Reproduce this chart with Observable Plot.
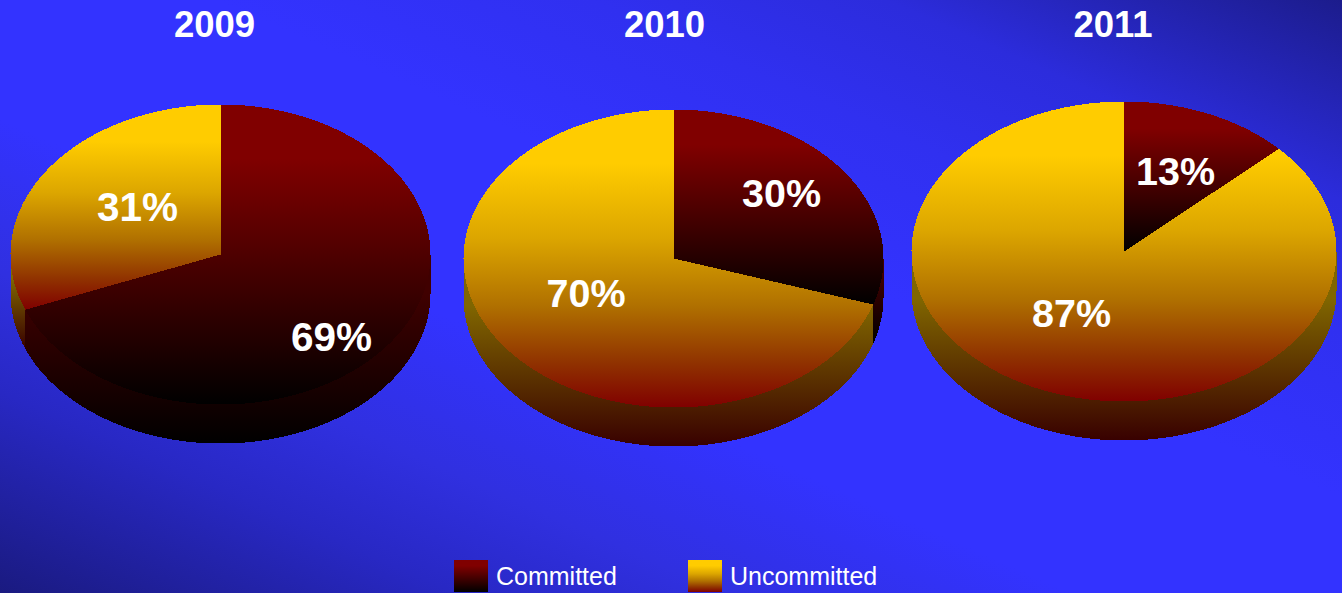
<!DOCTYPE html>
<html>
<head>
<meta charset="utf-8">
<script src="https://cdn.jsdelivr.net/npm/d3@7"></script>
<script src="https://cdn.jsdelivr.net/npm/@observablehq/plot@0.6"></script>
<style>
  html, body { margin: 0; padding: 0; overflow: hidden; background: #3333ff; }
  svg { display: block; }
</style>
</head>
<body>
<div id="chart"></div>
<script>
const years = ["2009", "2010", "2011"];
const committed = [69, 30, 13];
const uncommitted = [31, 70, 87];
const seriesNames = ["Committed", "Uncommitted"];

// Layout of the three pies, in pixels of the picture
const pieCx = [220, 673, 1123.5];
const pieCy = [254, 258, 251];
const pieRx = [210, 210, 212.5];
const pieRy = [150, 149, 150];
const pieDepth = 39;
const titleX = [214, 664, 1112.5];
const labelCommitted = [[331, 338], [781, 194], [1175, 172]];
const labelUncommitted = [[137, 208], [585.5, 294], [1071, 314]];
const labelSize = [40.5, 39.5, 39.5];

const W = 1342, H = 593;
const rad = Math.PI / 180;

const topFill = ["url(#topRed)", "url(#topGold)"];
const sideFill = ["url(#sideRed)", "url(#sideGold)"];

function arcPoints(i, from, to, dy = 0) {
  const n = Math.max(2, Math.ceil(Math.abs(to - from)));
  return d3.range(n + 1).map(k => {
    const a = (from + (to - from) * k / n) * rad;
    return {x: pieCx[i] + pieRx[i] * Math.sin(a), y: pieCy[i] - pieRy[i] * Math.cos(a) + dy};
  });
}

const topPts = [], sidePts = [];
years.forEach((year, i) => {
  const split = committed[i] / (committed[i] + uncommitted[i]) * 360;
  const slices = [[0, split], [split, 360]];
  slices.forEach(([a, b], s) => {
    const key = year + seriesNames[s];
    const centre = {x: pieCx[i], y: pieCy[i]};
    [centre, ...arcPoints(i, a, b)].forEach(p => topPts.push({...p, key, fill: topFill[s]}));
    const from = Math.max(a, 90), to = Math.min(b, 270);
    if (to > from) {
      // the upper edge is a chord hidden under the top face, so no seam shows along the rim
      const rim = arcPoints(i, from, to);
      [rim[0], rim[rim.length - 1], ...arcPoints(i, to, from, pieDepth)]
        .forEach(p => sidePts.push({...p, key, fill: sideFill[s]}));
    }
  });
});

const labels = years.flatMap((year, i) => [
  {x: labelCommitted[i][0], y: labelCommitted[i][1], text: committed[i] + "%", size: labelSize[i]},
  {x: labelUncommitted[i][0], y: labelUncommitted[i][1], text: uncommitted[i] + "%", size: labelSize[i]}
]);
const titles = years.map((year, i) => ({x: titleX[i], y: 25, text: year}));

const legendX = [454, 688];
const legend = seriesNames.map((name, s) => ({
  name, x1: legendX[s], x2: legendX[s] + 34, y1: 560, y2: 592, textX: legendX[s] + 41.5, fill: topFill[s]
}));

function defs() {
  const d = d3.create("svg:defs");
  const grads = {
    topRed: [[0, "#800000"], [0.18, "#800000"], [1, "#000000"]],
    topGold: [[0, "#ffcc00"], [0.18, "#ffcc00"], [0.43, "#dca600"], [0.66, "#b07000"], [0.85, "#903200"], [1, "#800000"]],
    sideRed: [[0, "#400000"], [0.2, "#400000"], [1, "#000000"]],
    sideGold: [[0, "#806600"], [0.25, "#806600"], [1, "#380000"]]
  };
  for (const [id, stops] of Object.entries(grads)) {
    const g = d.append("linearGradient").attr("id", id)
      .attr("x1", 0).attr("y1", 0).attr("x2", 0).attr("y2", 1);
    for (const [o, c] of stops) g.append("stop").attr("offset", o).attr("stop-color", c);
  }
  return d.node();
}

const font = "'Liberation Sans', Arial, sans-serif";

const chart = Plot.plot({
  width: W,
  height: H,
  margin: 0,
  x: {domain: [0, W], range: [0, W], axis: null},
  y: {domain: [0, H], range: [0, H], axis: null},
  color: {type: "identity"},
  style: {
    background: "linear-gradient(to bottom left, #1c1c8c 0%, #2c2cdc 17%, #3030f0 28%, #3333ff 42%, #3333ff 60%, #3030e0 73%, #2828c4 83%, #1a1a80 100%)",
    fontFamily: font
  },
  marks: [
    defs,
    Plot.line(sidePts, {x: "x", y: "y", z: "key", fill: "fill", stroke: "none", curve: "linear", shapeRendering: "crispEdges"}),
    Plot.line(topPts, {x: "x", y: "y", z: "key", fill: "fill", stroke: "none", curve: "linear", shapeRendering: "crispEdges"}),
    Plot.text(titles, {x: "x", y: "y", text: "text", fill: "white", fontSize: 36.5, fontWeight: "bold", fontFamily: font}),
    Plot.text(labels, {x: "x", y: "y", text: "text", fill: "white", fontSize: "size", fontWeight: "bold", fontFamily: font}),
    Plot.rect(legend, {x1: "x1", x2: "x2", y1: "y1", y2: "y2", fill: "fill"}),
    Plot.text(legend, {x: "textX", y: 576.5, text: "name", fill: "white", fontSize: 25, textAnchor: "start", fontFamily: font})
  ]
});
document.getElementById("chart").appendChild(chart);
</script>
</body>
</html>
